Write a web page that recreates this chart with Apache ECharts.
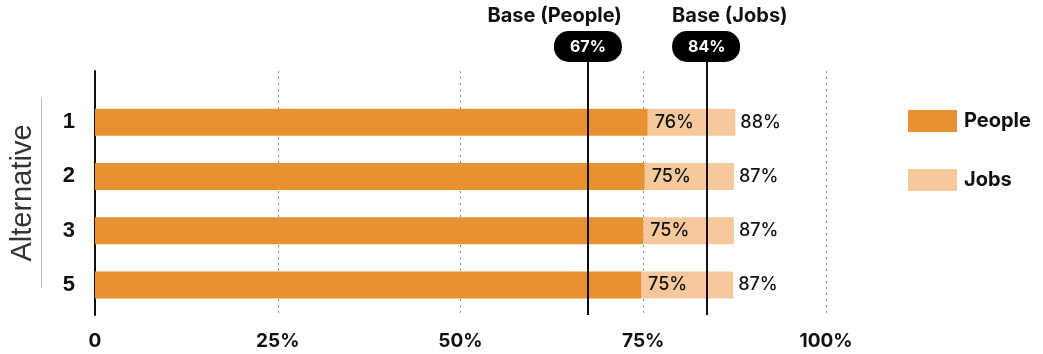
<!DOCTYPE html>
<html><head><meta charset="utf-8">
<script src="https://cdn.jsdelivr.net/npm/echarts@6/dist/echarts.min.js"></script>
<style>html,body{margin:0;padding:0;background:#fff}#c{width:1043px;height:354px}</style>
</head><body><div id="c"></div>
<script>
const categories = ['1', '2', '3', '5'];
const peopleValues = [75.6, 75.2, 75.0, 74.7];
const jobsValues = [87.6, 87.4, 87.4, 87.3];
const xTicks = [0, 25, 50, 75, 100];
const baseLines = [
  { name: 'Base (People)', value: 67.4 },
  { name: 'Base (Jobs)', value: 83.7 }
];
const seriesNames = ['People', 'Jobs'];
const colors = { people: '#E89132', jobs: '#F5C99B' };

const FONT = 'Inter, "Noto Sans", sans-serif';
const HFONT = '"Liberation Sans", Arial, sans-serif';
const jobsExtra = jobsValues.map((v, i) => +(v - peopleValues[i]).toFixed(2));
const pct = v => Math.round(v) + '%';

const chart = echarts.init(document.getElementById('c'), null, { renderer: 'canvas' });
const gridBox = { left: 95, right: 217, containLabel: false, outerBoundsMode: 'none' };
// label placement of the two base markers: title hugs the pill on the outer side
const baseLabelStyle = [
  { offset: [-33, 0], pillAlign: 'right' },
  { offset: [23, 0], pillAlign: 'left' }
];
chart.setOption({
  animation: false,
  textStyle: { fontFamily: FONT },
  grid: [
    Object.assign({ top: 71, bottom: 39 }, gridBox),
    Object.assign({ top: 95, bottom: 42 }, gridBox),
    Object.assign({ top: 60, bottom: 39 }, gridBox)
  ],
  legend: {
    orient: 'vertical', left: 903, top: 105,
    itemWidth: 49, itemHeight: 22, itemGap: 37,
    icon: 'rect',
    data: seriesNames,
    textStyle: { fontFamily: FONT, fontWeight: 'bold', fontSize: 20, color: '#111', padding: [0, 0, 0, 2] }
  },
  xAxis: [
    { gridIndex: 0, type: 'value', min: xTicks[0], max: xTicks[xTicks.length - 1], interval: 25,
      axisLine: { show: false }, axisTick: { show: false },
      splitLine: { show: true, lineStyle: { type: [2, 4], color: '#888', width: 1 } },
      axisLabel: { margin: 17, fontFamily: FONT, fontWeight: 'bold', fontSize: 19, color: '#111',
        formatter: v => v === 0 ? '0' : v + '%' } },
    { gridIndex: 1, type: 'value', min: 0, max: 100, show: false },
    { gridIndex: 2, type: 'value', min: 0, max: 100, show: false }
  ],
  yAxis: [
    { gridIndex: 0, type: 'category', data: categories, inverse: true,
      axisLine: { show: true, lineStyle: { color: '#111', width: 2 } },
      axisTick: { show: false }, axisLabel: { show: false }, splitLine: { show: false },
      name: '{a|Alternative}\n{b|}', nameLocation: 'middle', nameGap: 53, nameRotate: 90,
      nameTextStyle: {
        rich: {
          a: { fontFamily: HFONT, fontSize: 29, color: '#333', lineHeight: 36, align: 'center' },
          b: { width: 190, height: 1, backgroundColor: '#bbb', align: 'center' }
        }
      } },
    { gridIndex: 1, type: 'category', data: categories, inverse: true,
      axisLine: { show: false }, axisTick: { show: false },
      axisLabel: { margin: 20, fontFamily: HFONT, fontWeight: 'bold', fontSize: 22, color: '#111' } },
    { gridIndex: 2, type: 'category', data: categories, show: false }
  ],
  series: [
    { name: 'People', type: 'bar', xAxisIndex: 1, yAxisIndex: 1, stack: 'tot', z: 3,
      data: peopleValues, barWidth: 27, itemStyle: { color: colors.people },
      label: { show: true, position: 'right', distance: 7, formatter: p => pct(p.value),
        fontFamily: FONT, fontSize: 18, fontWeight: 500, color: '#111' } },
    { name: 'Jobs', type: 'bar', xAxisIndex: 1, yAxisIndex: 1, stack: 'tot', z: 2,
      data: jobsExtra, barWidth: 27, itemStyle: { color: colors.jobs },
      label: { show: true, position: 'right', distance: 5, formatter: p => pct(jobsValues[p.dataIndex]),
        fontFamily: FONT, fontSize: 18, fontWeight: 500, color: '#111' } },
    { name: 'base', type: 'line', xAxisIndex: 2, yAxisIndex: 2, data: [], z: 5,
      markLine: {
        silent: true, symbol: 'none', animation: false,
        lineStyle: { color: '#111', width: 2, type: 'solid' },
        label: { show: true, position: 'end', distance: -2 },
        data: baseLines.map((b, i) => ({
          name: b.name, xAxis: b.value,
          label: {
            offset: baseLabelStyle[i].offset,
            formatter: p => '{t|' + p.name + '}\n{p|' + pct(p.value) + '}',
            rich: {
              t: { fontFamily: FONT, fontWeight: 'bold', fontSize: 20, color: '#111', lineHeight: 30,
                   align: baseLabelStyle[i].pillAlign },
              p: { fontFamily: FONT, fontWeight: 'bold', fontSize: 16, color: '#fff', backgroundColor: '#000',
                   borderRadius: 15, width: 36, align: baseLabelStyle[i].pillAlign, padding: [8, 16, 7, 16] }
            }
          }
        }))
      } }
  ]
});
</script></body></html>
